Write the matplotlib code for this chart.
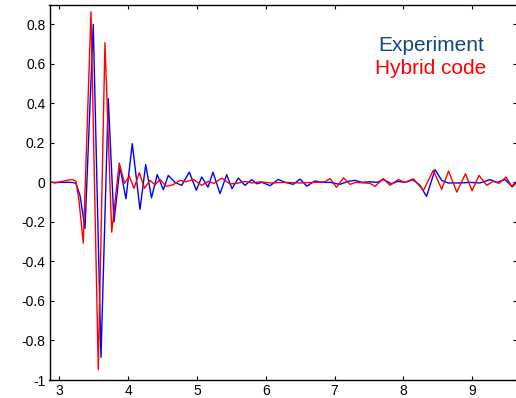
import matplotlib.pyplot as plt

plt.rcParams['font.family'] = ['Liberation Sans', 'DejaVu Sans']

# Experiment trace
exp_t = [2.86, 3.01, 3.185, 3.243, 3.301, 3.374, 3.494, 3.606, 3.712, 3.795,
         3.882, 3.969, 4.061, 4.173, 4.256, 4.340, 4.424, 4.512, 4.584, 4.682,
         4.779, 4.890, 4.991, 5.070, 5.161, 5.234, 5.336, 5.433, 5.510, 5.602,
         5.699, 5.797, 5.869, 5.946, 6.063, 6.183, 6.281, 6.401, 6.499, 6.596,
         6.717, 6.818, 6.935, 7.080, 7.196, 7.298, 7.400, 7.516, 7.618, 7.709,
         7.831, 7.923, 8.025, 8.141, 8.243, 8.337, 8.461, 8.558, 8.650, 8.824,
         8.969, 9.115, 9.260, 9.362, 9.478, 9.575, 9.652]
exp_v = [0.0, 0.0, 0.0, -0.005, -0.066, -0.233, 0.80, -0.885, 0.424, -0.201,
         0.077, -0.083, 0.196, -0.137, 0.090, -0.078, 0.039, -0.037, 0.035, 0.0,
         -0.015, 0.052, -0.040, 0.027, -0.024, 0.051, -0.057, 0.039, -0.032, 0.022,
         -0.015, 0.014, -0.007, 0.0, -0.017, 0.015, 0.0, -0.010, 0.017, -0.019,
         0.007, 0.0, 0.0, -0.010, 0.005, 0.010, 0.0, 0.003, 0.0, 0.014,
         -0.007, 0.005, 0.0, 0.013, -0.015, -0.071, 0.064, 0.010, -0.003, -0.003,
         0.0, -0.003, 0.014, 0.0, 0.015, -0.020, 0.005]

# Hybrid code trace
hyb_t = [2.86, 2.938, 3.039, 3.185, 3.243, 3.286, 3.349, 3.461, 3.567, 3.664,
         3.762, 3.872, 3.948, 4.017, 4.086, 4.163, 4.238, 4.318, 4.391, 4.464,
         4.551, 4.653, 4.755, 4.842, 4.948, 5.070, 5.161, 5.249, 5.360, 5.481,
         5.578, 5.699, 5.801, 5.917, 6.063, 6.281, 6.499, 6.717, 6.862, 6.935,
         7.029, 7.131, 7.225, 7.312, 7.443, 7.516, 7.589, 7.709, 7.806, 7.927,
         8.025, 8.145, 8.294, 8.436, 8.558, 8.657, 8.778, 8.904, 8.999, 9.100,
         9.212, 9.304, 9.391, 9.493, 9.580, 9.652]
hyb_v = [0.003, -0.003, 0.005, 0.015, 0.005, -0.091, -0.307, 0.862, -0.948, 0.707,
         -0.252, 0.098, -0.005, 0.032, -0.030, 0.049, -0.030, 0.010, -0.013, 0.015,
         -0.020, -0.012, 0.010, 0.003, 0.015, -0.015, 0.005, -0.005, 0.022, -0.008,
         -0.005, 0.005, -0.003, 0.003, -0.003, 0.0, -0.003, 0.0, 0.003, 0.019,
         -0.025, 0.023, -0.010, 0.0, -0.003, -0.005, -0.020, 0.019, -0.015, 0.014,
         0.0, 0.018, -0.040, 0.061, -0.035, 0.057, -0.049, 0.044, -0.043, 0.035,
         -0.015, 0.005, -0.005, 0.027, -0.024, 0.0]

x_ticks = [3, 4, 5, 6, 7, 8, 9]
y_ticks = [-1, -0.8, -0.6, -0.4, -0.2, 0, 0.2, 0.4, 0.6, 0.8]
y_labels = ['-1', '-0.8', '-0.6', '-0.4', '-0.2', '0', '0.2', '0.4', '0.6', '0.8']

fig = plt.figure(figsize=(5.16, 3.98), dpi=100)
ax = fig.add_axes([49.5 / 516, 18 / 398, 467.5 / 516, 375.5 / 398])

ax.plot(exp_t, exp_v, color='#0000ff', lw=1.0)
ax.plot(hyb_t, hyb_v, color='#ff0000', lw=1.0)

ax.set_xlim(2.858, 9.652)
ax.set_ylim(-1.0, 0.9)
ax.set_xticks(x_ticks)
ax.set_xticklabels([str(t) for t in x_ticks])
ax.set_yticks(y_ticks)
ax.set_yticklabels(y_labels)
ax.tick_params(direction='in', length=3, width=0.8, top=True, right=True,
               labelsize=10, pad=3)
for s in ax.spines.values():
    s.set_linewidth(1.0)

fig.text(431 / 516, 1 - 50.7 / 398, 'Experiment', color='#17467e',
         fontsize=15, ha='center', va='baseline')
fig.text(431 / 516, 1 - 74.3 / 398, 'Hybrid code', color='#ff0000',
         fontsize=15, ha='center', va='baseline')

fig.savefig('out.png', dpi=100)
